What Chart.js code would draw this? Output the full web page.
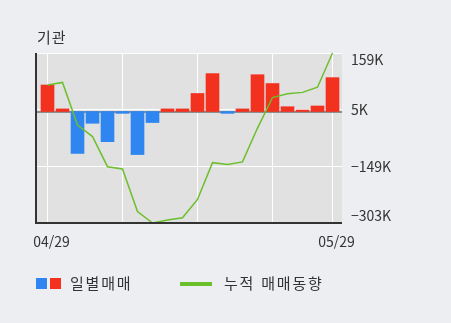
<!DOCTYPE html>
<html lang="ko">
<head>
<meta charset="utf-8">
<script src="https://cdn.jsdelivr.net/npm/chart.js@4/dist/chart.umd.min.js"></script>
<style>
  html, body { margin: 0; padding: 0; background: #eceef1; }
  #wrap { position: relative; width: 451px; height: 323px; overflow: hidden; font-family: "Noto Sans CJK KR", sans-serif; color: #333; }
  #chart { position: absolute; left: 0; top: 0; }
  .txt { position: absolute; font-size: 15px; line-height: 20px; white-space: nowrap; letter-spacing: 1px; }
  .leg { letter-spacing: 1.8px; }
  .sq { position: absolute; width: 11px; height: 11px; }
</style>
</head>
<body>
<div id="wrap">
  <canvas id="chart" width="451" height="323"></canvas>
  <div class="txt" style="left:37px; top:27px;">기관</div>
  <div class="sq" style="left:36px; top:278px; background:#2f86f0;"></div>
  <div class="sq" style="left:50px; top:278px; background:#f2311f;"></div>
  <div class="txt leg" style="left:70px; top:273px;">일별매매</div>
  <div style="position:absolute; left:180px; top:282px; width:32px; height:4px; background:#6cbf2c;"></div>
  <div class="txt leg" style="left:224px; top:273px;">누적 매매동향</div>
</div>
<script>
// trading days shown on the x axis
const days = ['04/29', '05/04', '05/06', '05/07', '05/08', '05/11', '05/12', '05/13', '05/14', '05/15',
              '05/18', '05/19', '05/20', '05/21', '05/22', '05/25', '05/26', '05/27', '05/28', '05/29'];
// daily net trading (thousand shares)
const daily = [72, 7, -114, -32, -82, -5, -117, -30, 7, 7, 49, 103, -5, 7, 100, 76, 13, 4, 15, 92];
// cumulative net trading (thousand shares)
const cumulative = [72, 79, -37, -68, -150, -156, -272, -303, -295, -289, -239, -139, -144, -137, -45, 38, 48, 52, 66, 159];
// axis ticks
const yTicks = [159, 5, -149, -303];
const gridDays = [0, 5, 10, 15, 19];
const labelDays = [0, 19];

const RED = '#f2311f';
const BLUE = '#2f86f0';
const GREEN = '#6cbf2c';

function fmtK(v) {
    return (v < 0 ? '\u2212' + Math.abs(v) : String(v)) + 'K';
}

const plotDecor = {
    id: 'plotDecor',
    beforeDraw(chart) {
        const { ctx, chartArea: a } = chart;
        ctx.save();
        ctx.fillStyle = '#e1e1e1';
        ctx.fillRect(a.left, a.top, a.right - a.left, a.bottom - a.top);
        ctx.restore();
    },
    beforeDatasetsDraw(chart) {
        const { ctx, chartArea: a, scales } = chart;
        const y0 = scales.y.getPixelForValue(0);
        ctx.save();
        ctx.fillStyle = '#8e8e8e';
        ctx.fillRect(a.left, Math.round(y0) - 1, a.right - a.left, 2);
        ctx.restore();
    },
    afterDraw(chart) {
        const { ctx, chartArea: a } = chart;
        ctx.save();
        ctx.fillStyle = '#333';
        ctx.fillRect(a.left - 1, a.top, 2, a.bottom - a.top + 1);
        ctx.fillRect(a.left - 1, a.bottom - 1, a.right - a.left + 1, 2);
        ctx.restore();
    }
};

new Chart(document.getElementById('chart'), {
    data: {
        datasets: [{
            type: 'line',
            order: 0,
            data: cumulative.map((v, i) => ({ x: i, y: v })),
            borderColor: GREEN,
            borderWidth: 1.5,
            pointRadius: 0,
            tension: 0,
            clip: false
        }, {
            type: 'bar',
            order: 1,
            data: daily.map((v, i) => ({ x: i, y: v })),
            backgroundColor: daily.map(v => v >= 0 ? RED : BLUE),
            barThickness: 13,
            borderWidth: 0
        }]
    },
    options: {
        responsive: false,
        animation: false,
        layout: { padding: { left: 36, top: 53, right: 0, bottom: 70 } },
        plugins: { legend: { display: false }, tooltip: { enabled: false } },
        scales: {
            x: {
                type: 'linear',
                bounds: 'data',
                offset: false,
                min: -0.767,
                max: 19.633,
                afterBuildTicks: s => { s.ticks = gridDays.map(v => ({ value: v })); },
                afterFit: s => { s.height = 30; },
                grid: { offset: false, color: '#ffffff', lineWidth: 1, drawTicks: false },
                border: { display: false },
                ticks: {
                    autoSkip: false,
                    maxRotation: 0,
                    padding: 10,
                    labelOffset: 4,
                    color: '#333',
                    font: { family: '"Noto Sans CJK KR", sans-serif', size: 14 },
                    callback: v => labelDays.includes(v) ? days[v] : ''
                }
            },
            y: {
                position: 'right',
                bounds: 'data',
                min: -303,
                max: 159,
                afterBuildTicks: s => { s.ticks = yTicks.map(v => ({ value: v })); },
                afterFit: s => { s.width = 109; },
                grid: { color: '#ffffff', lineWidth: 1, drawTicks: false },
                border: { display: false },
                ticks: {
                    padding: 9,
                    color: '#333',
                    font: { family: '"Noto Sans CJK KR", sans-serif', size: 14, lineHeight: 1 },
                    // keep the end labels inside the plot height
                    callback: v => v === yTicks[0] ? ['', fmtK(v)]
                        : v === yTicks[yTicks.length - 1] ? [fmtK(v), ''] : fmtK(v)
                }
            }
        }
    },
    plugins: [plotDecor]
});
</script>
</body>
</html>
